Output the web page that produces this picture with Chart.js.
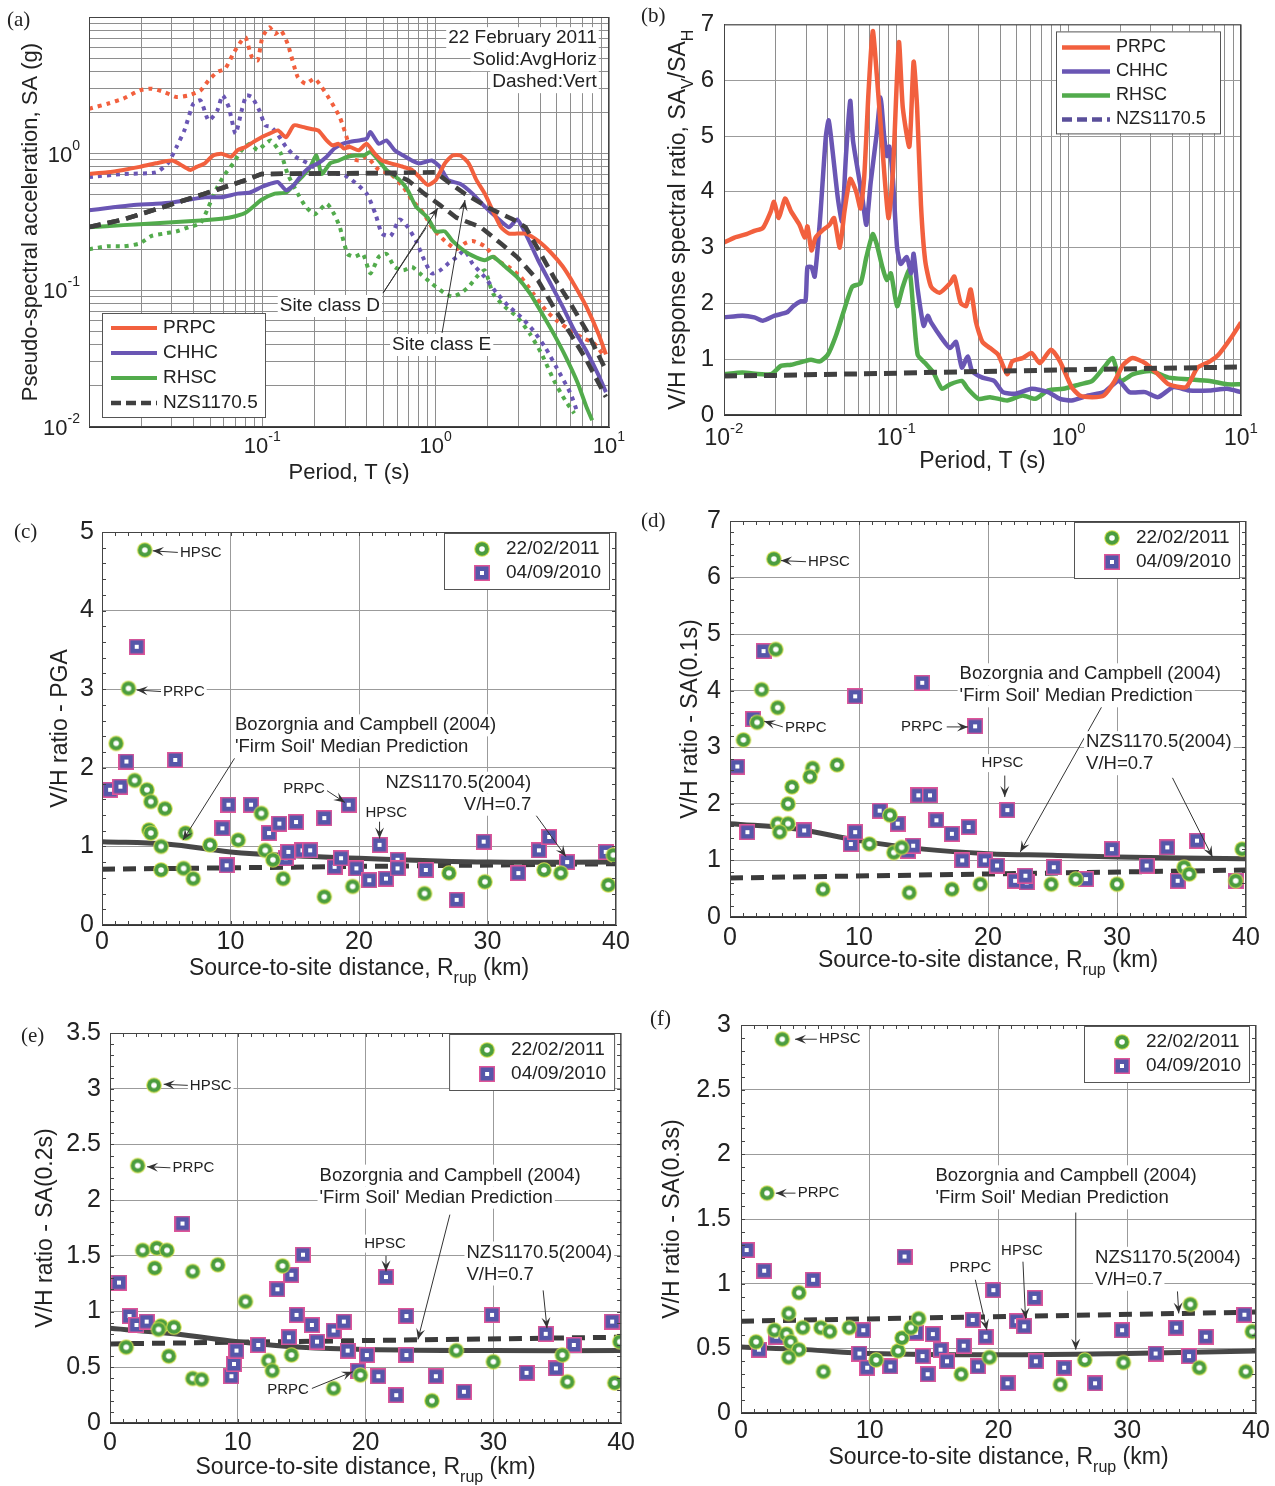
<!DOCTYPE html>
<html lang="en">
<head>
<meta charset="UTF-8">
<title>V/H spectral ratios - Canterbury earthquakes</title>
<script src="https://cdn.jsdelivr.net/npm/chart.js"></script>
<style>
  body { margin: 0; background: #fff; }
  #page { position: relative; width: 1275px; height: 1486px; overflow: hidden; background: #fff; }
  canvas { position: absolute; }
  .tag { position: absolute; font-family: 'Liberation Serif', 'DejaVu Serif', serif; font-size: 21px; color: #222; z-index: 2; }
</style>
</head>
<body>
<div id="page">
  <canvas id="pa"></canvas>
  <canvas id="pb"></canvas>
  <canvas id="pc"></canvas>
  <canvas id="pd"></canvas>
  <canvas id="pe"></canvas>
  <canvas id="pf"></canvas>
  <div class="tag" style="left:7px;top:7px">(a)</div>
  <div class="tag" style="left:641px;top:3px">(b)</div>
  <div class="tag" style="left:14px;top:519px">(c)</div>
  <div class="tag" style="left:641px;top:508px">(d)</div>
  <div class="tag" style="left:21px;top:1023px">(e)</div>
  <div class="tag" style="left:650px;top:1006px">(f)</div>
</div>

<script>
const FONT = "'Liberation Sans', Arial, Helvetica, sans-serif";
const INK = "#222";
const PRPC = "#f2603e", CHHC = "#6a56b4", RHSC = "#52ab4c", DARK = "#404040";

// ---------- (a) pseudo-spectral acceleration, 22 Feb 2011 (solid = avg horizontal, dotted = vertical)
const aT_prpcH = [0.01,0.0128,0.0158,0.0196,0.0243,0.0302,0.0355,0.0385,0.0418,0.0466,0.052,0.058,0.066,0.072,0.08,0.089,0.099,0.11,0.123,0.137,0.152,0.17,0.189,0.21,0.235,0.254,0.275,0.296,0.32,0.36,0.40,0.445,0.49,0.55,0.65,0.73,0.81,0.9,1.0,1.13,1.25,1.39,1.55,1.72,1.92,2.14,2.38,2.65,2.95,3.3,3.9,4.6,5.4,6.3,7.4,8.7,9.6];
const aSA_prpcH = [0.71,0.73,0.76,0.80,0.85,0.89,0.80,0.76,0.80,0.85,0.97,1.0,0.95,1.06,1.12,1.22,1.32,1.40,1.48,1.32,1.61,1.57,1.52,1.48,1.25,1.15,1.18,1.09,1.12,1.06,1.18,1.0,0.89,0.85,0.80,0.76,0.67,0.59,0.64,0.85,0.97,0.97,0.85,0.64,0.51,0.38,0.29,0.26,0.26,0.26,0.23,0.19,0.15,0.11,0.076,0.048,0.034];
const aT_chhcH = [0.01,0.0128,0.0176,0.0243,0.0302,0.0376,0.0466,0.058,0.072,0.085,0.099,0.11,0.123,0.137,0.152,0.17,0.189,0.21,0.235,0.26,0.29,0.32,0.36,0.40,0.42,0.47,0.52,0.58,0.65,0.73,0.81,0.95,1.06,1.18,1.39,1.63,1.92,2.26,2.65,2.95,3.3,3.9,4.6,5.4,6.3,7.4,8.7,9.6];
const aSA_chhcH = [0.385,0.40,0.42,0.43,0.44,0.46,0.48,0.48,0.51,0.52,0.57,0.60,0.62,0.54,0.59,0.71,0.80,0.85,0.95,1.09,1.18,1.22,1.25,1.29,1.44,1.18,1.25,1.06,0.97,0.89,0.85,0.89,0.80,0.64,0.60,0.51,0.41,0.34,0.29,0.33,0.26,0.166,0.112,0.076,0.051,0.036,0.024,0.018];
const aT_rhscH = [0.01,0.0158,0.0243,0.0376,0.052,0.064,0.08,0.099,0.118,0.137,0.152,0.17,0.189,0.205,0.22,0.246,0.275,0.31,0.345,0.385,0.42,0.47,0.52,0.62,0.69,0.77,0.9,1.0,1.13,1.25,1.55,1.92,2.14,2.5,2.95,3.5,4.1,4.8,5.6,6.6,7.4,8.0];
const aSA_rhscH = [0.29,0.30,0.31,0.32,0.33,0.34,0.37,0.46,0.51,0.52,0.59,0.68,0.80,0.97,0.71,0.85,0.89,0.95,0.97,0.97,1.03,0.89,0.76,0.64,0.54,0.41,0.34,0.27,0.27,0.23,0.185,0.166,0.176,0.15,0.125,0.095,0.068,0.048,0.033,0.021,0.0141,0.0112];
const aT_prpcV = [0.01,0.0128,0.0158,0.0196,0.023,0.027,0.032,0.0376,0.044,0.049,0.055,0.061,0.068,0.076,0.08,0.087,0.094,0.1,0.11,0.118,0.128,0.14,0.16,0.178,0.2,0.22,0.24,0.26,0.28,0.31,0.32,0.36,0.40,0.47,0.55,0.65,0.73,0.86,0.95,1.13,1.32,1.47,1.63,1.92,2.26,2.65,3.1,3.65,4.3,5.0,6.0,7.0,8.2,9.2];
const aSA_prpcV = [2.13,2.32,2.53,2.9,2.99,2.83,2.6,2.67,2.9,3.44,3.96,4.18,5.4,6.74,7.1,5.1,4.82,7.1,8.4,7.5,7.98,6.36,3.64,3.25,3.54,3.07,2.6,2.19,1.85,1.25,0.95,0.89,0.95,0.76,0.71,0.57,0.46,0.36,0.29,0.23,0.2,0.22,0.23,0.21,0.166,0.148,0.125,0.095,0.072,0.06,0.051,0.045,0.041,0.034];
const aT_chhcV = [0.01,0.0158,0.0243,0.0285,0.032,0.0355,0.04,0.044,0.049,0.055,0.059,0.064,0.07,0.076,0.081,0.087,0.096,0.104,0.112,0.122,0.137,0.155,0.183,0.21,0.26,0.29,0.33,0.4,0.45,0.49,0.55,0.62,0.69,0.77,0.86,0.95,1.06,1.18,1.32,1.47,1.63,1.92,2.26,2.65,3.1,3.65,4.3,5.0,6.0,6.6];
const aSA_chhcV = [0.675,0.71,0.73,0.85,1.12,1.48,2.32,2.45,1.75,2.07,2.67,2.19,1.40,2.07,2.67,2.6,2.07,1.61,1.57,1.40,1.12,0.95,0.85,0.76,0.71,0.71,0.64,0.51,0.36,0.26,0.25,0.33,0.29,0.23,0.166,0.133,0.14,0.157,0.175,0.196,0.157,0.125,0.095,0.076,0.064,0.051,0.038,0.027,0.0176,0.0126];
const aT_rhscV = [0.01,0.0128,0.0158,0.0196,0.023,0.027,0.032,0.0376,0.044,0.049,0.055,0.061,0.068,0.076,0.085,0.094,0.104,0.112,0.128,0.14,0.16,0.178,0.2,0.235,0.26,0.28,0.31,0.34,0.38,0.42,0.47,0.52,0.58,0.65,0.73,0.81,0.95,1.13,1.25,1.39,1.55,1.72,1.92,2.14,2.5,2.95,3.5,4.1,4.8,5.6,6.3];
const aSA_rhscV = [0.20,0.21,0.21,0.22,0.25,0.26,0.27,0.29,0.31,0.41,0.57,0.71,0.85,1.06,1.18,1.06,1.18,1.25,1.0,0.71,0.51,0.41,0.36,0.43,0.36,0.29,0.185,0.176,0.185,0.133,0.176,0.185,0.148,0.14,0.148,0.133,0.112,0.095,0.09,0.095,0.106,0.125,0.14,0.095,0.076,0.064,0.048,0.034,0.022,0.0156,0.0126];
const aT_nzsD = [0.01,0.0158,0.0273,0.0466,0.08,0.099,0.56,0.69,0.86,1.06,1.32,1.82,2.38,2.95,3.9,4.8,6.0,7.4,9.6];
const aSA_nzsD = [0.29,0.33,0.41,0.51,0.64,0.71,0.72,0.64,0.51,0.42,0.34,0.29,0.22,0.175,0.118,0.075,0.048,0.031,0.0166];
const aT_nzsE = [0.01,0.0158,0.0273,0.0466,0.08,0.099,1.0,1.18,1.47,2.03,2.8,3.3,3.9,4.8,6.0,7.4,9.6];
const aSA_nzsE = [0.29,0.33,0.41,0.51,0.64,0.71,0.73,0.62,0.51,0.40,0.33,0.29,0.20,0.125,0.08,0.051,0.026];

// ---------- (b) V/H response spectral ratio
const bT_prpc = [0.01,0.0115,0.0135,0.015,0.0168,0.0187,0.0195,0.0208,0.0226,0.0245,0.0274,0.0294,0.0305,0.0322,0.034,0.037,0.041,0.0435,0.047,0.05,0.054,0.0585,0.062,0.065,0.069,0.073,0.077,0.0834,0.09,0.0955,0.1035,0.109,0.119,0.126,0.132,0.139,0.147,0.159,0.178,0.205,0.217,0.236,0.254,0.27,0.29,0.316,0.35,0.39,0.44,0.47,0.54,0.61,0.68,0.79,0.89,1.04,1.16,1.37,1.6,1.85,2.07,2.35,2.78,3.3,3.8,4.8,5.6,6.6,7.4,8.7,10];
const bVH_prpc = [3.09,3.18,3.24,3.30,3.35,3.65,3.82,3.53,3.88,3.65,3.41,3.18,3.38,2.95,3.18,3.30,3.41,3.53,3.0,3.65,4.23,4.0,3.70,4.23,5.8,6.88,6.1,4.70,3.53,4.35,6.68,5.51,4.81,6.33,5.51,3.76,2.77,2.30,2.19,2.36,2.48,2.01,1.95,2.25,1.66,1.31,1.20,1.08,0.73,0.96,1.02,1.11,0.93,1.17,0.96,0.50,0.35,0.32,0.35,0.61,0.90,1.02,0.93,0.73,0.55,0.50,0.85,0.96,1.08,1.37,1.66];
const bT_chhc = [0.01,0.0128,0.015,0.0168,0.0197,0.0232,0.0252,0.028,0.0297,0.0305,0.0322,0.0336,0.036,0.039,0.0405,0.0426,0.0458,0.0484,0.051,0.054,0.056,0.06,0.0636,0.067,0.071,0.077,0.081,0.085,0.088,0.091,0.0955,0.101,0.106,0.115,0.122,0.126,0.133,0.144,0.152,0.159,0.184,0.205,0.222,0.24,0.26,0.275,0.316,0.37,0.415,0.49,0.61,0.76,0.89,1.04,1.3,1.6,1.95,2.25,2.78,3.3,4.05,5.0,6.6,8.3,10];
const bVH_chhc = [1.75,1.78,1.75,1.69,1.78,1.84,1.95,2.04,2.04,2.65,2.65,2.48,3.47,4.99,5.28,4.75,3.88,3.47,4.64,5.63,4.93,4.35,3.88,3.41,4.17,5.05,5.69,4.99,4.64,4.81,4.23,3.0,2.71,2.83,2.54,2.89,2.25,1.60,1.78,1.66,1.37,1.20,1.31,0.85,1.05,0.79,0.67,0.61,0.41,0.38,0.47,0.41,0.29,0.26,0.35,0.41,0.61,0.41,0.41,0.32,0.50,0.44,0.44,0.47,0.41];
const bT_rhsc = [0.01,0.0128,0.0187,0.0214,0.0245,0.029,0.032,0.036,0.04,0.0447,0.05,0.0555,0.062,0.067,0.073,0.077,0.083,0.088,0.093,0.101,0.109,0.119,0.125,0.133,0.147,0.164,0.184,0.205,0.24,0.26,0.3,0.35,0.44,0.54,0.64,0.76,0.93,1.16,1.37,1.6,1.8,2.0,2.35,3.0,3.8,5.0,6.6,8.3,10];
const bVH_rhsc = [0.73,0.76,0.73,0.88,0.90,0.96,0.99,0.96,1.08,1.43,1.90,2.30,2.36,2.83,3.24,3.06,2.65,2.42,2.54,1.95,2.30,2.60,1.95,1.08,0.93,0.76,0.47,0.55,0.61,0.47,0.29,0.32,0.26,0.35,0.29,0.44,0.47,0.55,0.61,0.85,1.02,0.61,0.73,0.79,0.67,0.64,0.61,0.55,0.55];
const bT_nzs = [0.01,0.02,0.1,1,10];
const bVH_nzs = [0.70,0.71,0.75,0.81,0.86];

// ---------- (c)-(f) V/H ratio vs rupture distance
const NZS_R = [0, 40];
const c11_R = [3.33,2.06,1.1,2.54,3.5,3.8,4.9,3.65,3.8,4.6,6.5,4.6,6.35,7.1,8.4,10.6,12.4,12.7,13.3,14.1,17.3,19.5,25.1,27.0,29.8,34.4,35.7,39.4,39.8];
const c11_VH = [4.77,3.01,2.31,1.84,1.72,1.57,1.48,1.21,1.17,1.0,1.17,0.70,0.72,0.59,1.02,1.08,1.42,0.95,0.83,0.59,0.36,0.49,0.40,0.66,0.55,0.70,0.66,0.51,0.89];
const c10_R = [0.63,1.43,1.9,2.7,5.7,9.37,9.84,9.7,11.6,13.0,13.8,14.3,14.5,15.1,15.6,16.2,17.3,18.1,18.6,19.2,19.8,20.8,21.6,22.1,23.0,23.0,25.2,27.6,29.7,32.4,34.0,34.8,36.2,39.2];
const c10_VH = [1.72,1.76,2.08,3.54,2.10,1.23,1.53,0.76,1.53,1.17,1.29,0.85,0.93,1.31,0.95,0.95,1.36,0.74,0.85,1.53,0.72,0.57,1.02,0.59,0.83,0.72,0.70,0.32,1.06,0.66,0.95,1.12,0.80,0.93];
const cBC_R = [0,5,10,15,20,25,30,40];
const cBC_VH = [1.06,1.03,0.93,0.88,0.85,0.82,0.80,0.80];
const cNZS_VH = [0.71,0.78];

const d11_R = [3.4,3.55,2.45,3.7,2.1,1.04,8.3,6.4,6.2,4.8,4.5,3.7,4.5,3.85,10.8,12.4,12.7,13.3,7.2,13.9,17.2,19.4,24.9,26.8,30.0,35.2,35.6,39.2,39.7];
const d11_VH = [6.33,4.73,4.02,3.70,3.44,3.13,2.69,2.63,2.48,2.30,2.0,1.65,1.65,1.50,1.29,1.80,1.14,1.23,0.49,0.43,0.49,0.58,0.58,0.67,0.58,0.88,0.76,0.64,1.20];
const d10_R = [0.57,1.35,1.8,2.6,5.75,9.37,9.7,9.7,11.6,13.0,13.8,14.2,14.6,14.9,15.5,16.0,17.2,18.0,18.5,19.0,19.75,20.7,21.5,22.1,23.0,22.9,25.1,27.6,29.6,32.3,33.9,34.7,36.2,39.2];
const d10_VH = [2.66,1.50,3.50,4.70,1.53,1.29,1.50,3.90,1.88,1.65,1.17,1.26,2.15,4.14,2.15,1.71,1.47,1.0,1.59,3.37,1.0,0.91,1.89,0.64,0.61,0.73,0.88,0.67,1.20,0.91,1.23,0.64,1.35,0.64];
const dBC_R = [0,5,10,15,20,25,30,40];
const dBC_VH = [1.65,1.56,1.35,1.2,1.12,1.09,1.06,1.03];
const dNZS_VH = [0.69,0.83];

const e11_R = [3.44,2.17,2.55,3.66,4.46,3.5,6.47,8.44,10.6,13.5,1.27,3.98,3.8,5.0,4.6,6.47,7.17,12.4,12.7,14.2,17.5,19.6,25.2,27.1,30.0,35.4,35.8,39.5,39.9];
const e11_VH = [3.03,2.31,1.55,1.57,1.55,1.39,1.36,1.42,1.09,1.41,0.68,0.87,0.84,0.86,0.60,0.40,0.39,0.56,0.47,0.61,0.31,0.43,0.20,0.65,0.55,0.61,0.37,0.36,0.73];
const e10_R = [0.7,1.53,2.07,2.87,5.67,9.5,9.7,9.9,11.6,13.1,14.0,14.2,14.6,15.1,15.8,16.2,17.5,18.3,18.6,19.4,20.1,21.0,21.6,22.4,23.2,23.2,25.5,27.7,29.9,32.6,34.1,34.9,36.3,39.3];
const e10_VH = [1.26,0.96,0.88,0.91,1.79,0.42,0.53,0.65,0.70,1.20,0.77,1.33,0.97,1.51,0.88,0.73,0.83,0.91,0.65,0.47,0.61,0.42,1.31,0.25,0.96,0.61,0.42,0.28,0.97,0.45,0.80,0.49,0.70,0.91];
const eBC_R = [0,5,10,15,20,30,40];
const eBC_VH = [0.85,0.80,0.73,0.68,0.66,0.65,0.65];
const eNZS_VH = [0.71,0.77];

const f11_R = [3.2,2.02,1.17,2.6,3.7,3.53,3.85,4.5,3.7,4.5,4.8,6.4,6.2,6.9,8.4,10.5,12.2,12.5,13.2,13.8,17.1,19.3,24.8,26.7,29.7,34.9,35.6,39.2,39.7];
const f11_VH = [2.89,1.70,0.55,0.64,0.77,0.61,0.55,0.49,0.43,0.93,0.66,0.32,0.66,0.63,0.66,0.41,0.48,0.58,0.66,0.73,0.30,0.43,0.22,0.41,0.39,0.84,0.35,0.32,0.63];
const f10_R = [0.44,1.39,1.8,2.74,5.6,9.2,9.5,9.8,11.6,12.7,13.6,14.1,14.5,14.9,15.5,16.0,17.3,18.0,18.4,19.0,19.6,20.7,21.4,22.0,22.8,22.9,25.1,27.5,29.6,32.2,33.8,34.8,36.1,39.1];
const f10_VH = [1.26,0.49,1.10,0.59,1.03,0.46,0.64,0.35,0.36,1.21,0.62,0.44,0.30,0.61,0.49,0.40,0.52,0.72,0.36,0.59,0.95,0.23,0.71,0.67,0.89,0.40,0.35,0.23,0.64,0.46,0.66,0.44,0.59,0.76];
const fBC_R = [0,5,10,20,30,40];
const fBC_VH = [0.51,0.49,0.46,0.45,0.46,0.48];
const fNZS_VH = [0.71,0.78];

// ---------- helpers
const xy = (xs, ys) => xs.map((x, i) => ({ x, y: ys[i] }));

const LOG_GRID = [];
for (let e = -2; e < 1; e++) for (let m = 1; m < 10; m++) LOG_GRID.push(+(m * Math.pow(10, e)).toPrecision(2));
LOG_GRID.push(10);

function ringImg() {
  const c = document.createElement("canvas"); c.width = c.height = 18;
  const g = c.getContext("2d");
  g.fillStyle = "#d4df4e"; g.beginPath(); g.arc(9, 9, 7.8, 0, 2 * Math.PI); g.fill();
  g.fillStyle = "#4b9d3f"; g.beginPath(); g.arc(9, 9, 6.8, 0, 2 * Math.PI); g.fill();
  g.fillStyle = "#fff"; g.beginPath(); g.arc(9, 9, 2.8, 0, 2 * Math.PI); g.fill();
  return c;
}
function squareImg() {
  const c = document.createElement("canvas"); c.width = c.height = 16;
  const g = c.getContext("2d");
  g.fillStyle = "#de5599"; g.fillRect(0, 0, 16, 16);
  g.fillStyle = "#5557a9"; g.fillRect(1.5, 1.5, 13, 13);
  g.fillStyle = "#fff"; g.fillRect(6, 6, 4, 4);
  return c;
}
const RING = ringImg(), SQUARE = squareImg();

function linAxis(min, max, step, pad, size) {
  return {
    type: "linear", min, max,
    grid: { color: "#9b9b9b", lineWidth: 1, drawTicks: false },
    border: { display: true, color: "#333" },
    ticks: { stepSize: step, padding: pad, color: INK, autoSkip: false, maxRotation: 0,
             font: { family: FONT, size: size || 25 }, callback: v => String(v) }
  };
}
// log axis: grid at 1..9 x 10^n, labels drawn as 10^n by the overlay
function logAxis() {
  return {
    type: "logarithmic", min: 0.01, max: 10,
    afterBuildTicks: s => { s.ticks = LOG_GRID.map(v => ({ value: v })); },
    grid: { color: "#8e8e8e", lineWidth: 1, drawTicks: false },
    border: { display: true, color: "#333" },
    ticks: { autoSkip: false, maxRotation: 0, font: { family: FONT, size: 21 }, callback: () => "" }
  };
}

function drawPow(ctx, e, x, y, align, size) {
  const es = Math.round(size * 0.64);
  ctx.font = size + "px " + FONT;
  const w1 = ctx.measureText("10").width;
  ctx.font = es + "px " + FONT;
  const w2 = ctx.measureText(String(e)).width;
  const x0 = align === "right" ? x - w1 - w2 : x - (w1 + w2) / 2;
  ctx.fillStyle = INK; ctx.textBaseline = "middle"; ctx.textAlign = "left";
  ctx.font = size + "px " + FONT; ctx.fillText("10", x0, y);
  ctx.font = es + "px " + FONT; ctx.fillText(String(e), x0 + w1, y - size * 0.45);
}

function head(ctx, x1, y1, x2, y2) {
  const a = Math.atan2(y2 - y1, x2 - x1), L = 11, W = 4.5, c = Math.cos(a), s = Math.sin(a);
  ctx.beginPath();
  ctx.moveTo(x2, y2);
  ctx.lineTo(x2 - L * c + W * s, y2 - L * s - W * c);
  ctx.lineTo(x2 - 0.6 * L * c, y2 - 0.6 * L * s);
  ctx.lineTo(x2 - L * c - W * s, y2 - L * s + W * c);
  ctx.closePath(); ctx.fill();
}

function drawNote(ctx, n, X, Y) {
  ctx.strokeStyle = "#333"; ctx.fillStyle = "#333"; ctx.lineWidth = 1;
  (n.arrows || []).forEach(([x1, y1, x2, y2, tip]) => {
    const p = [X(x1), Y(y1), X(x2), Y(y2)];
    ctx.beginPath(); ctx.moveTo(p[0], p[1]); ctx.lineTo(p[2], p[3]); ctx.stroke();
    if (tip) head(ctx, p[0], p[1], p[2], p[3]);
  });
  ctx.font = n.size + "px " + FONT; ctx.textBaseline = "middle";
  ctx.textAlign = n.align || "left";
  const x0 = X(n.x), y0 = Y(n.y), lh = Math.round(n.size * 1.18);
  n.text.forEach((t, i) => {
    const w = ctx.measureText(t).width, left = n.align === "right" ? x0 - w : x0;
    ctx.fillStyle = "#fff"; ctx.fillRect(left - 2, y0 + i * lh - lh / 2, w + 4, lh);
  });
  ctx.fillStyle = INK;
  n.text.forEach((t, i) => ctx.fillText(t, x0, y0 + i * lh));
}

function drawLegend(ctx, L, a) {
  const bx = L.left != null ? a.left + L.left : a.right - L.right - L.w;
  const by = L.top != null ? a.top + L.top : a.bottom - L.bottom - L.h;
  ctx.fillStyle = "#fff"; ctx.fillRect(bx, by, L.w, L.h);
  ctx.strokeStyle = "#555"; ctx.lineWidth = 1; ctx.strokeRect(bx + 0.5, by + 0.5, L.w, L.h);
  ctx.font = L.size + "px " + FONT; ctx.textBaseline = "middle"; ctx.textAlign = "left";
  L.items.forEach((it, i) => {
    const y = by + L.rows[i];
    if (it.img) {
      ctx.drawImage(it.img, bx + L.mx - it.img.width / 2, y - it.img.height / 2);
    } else {
      ctx.save();
      ctx.strokeStyle = it.color; ctx.lineWidth = it.width; ctx.setLineDash(it.dash || []);
      ctx.beginPath(); ctx.moveTo(bx + L.s0, y); ctx.lineTo(bx + L.s1, y); ctx.stroke();
      ctx.restore();
    }
    ctx.fillStyle = INK; ctx.fillText(it.label, bx + L.tx, y);
  });
}

function drawRich(ctx, segs, cx, cy, rot, size) {
  const fontOf = s => (s[1] ? Math.round(size * 0.68) : size) + "px " + FONT;
  let total = 0;
  segs.forEach(s => { ctx.font = fontOf(s); total += ctx.measureText(s[0]).width; });
  ctx.save(); ctx.translate(cx, cy); ctx.rotate(rot);
  ctx.fillStyle = INK; ctx.textBaseline = "middle"; ctx.textAlign = "left";
  let x = -total / 2;
  segs.forEach(s => {
    ctx.font = fontOf(s);
    ctx.fillText(s[0], x, s[1] === "sub" ? size * 0.4 : 0);
    x += ctx.measureText(s[0]).width;
  });
  ctx.restore();
}

function minorTicks(ctx, a, sx, sy, mx, my) {
  ctx.strokeStyle = "#444"; ctx.lineWidth = 1; ctx.beginPath();
  const nx = Math.round((sx.max - sx.min) / mx), ny = Math.round((sy.max - sy.min) / my);
  for (let i = 1; i < nx; i++) {
    const p = Math.round(sx.getPixelForValue(sx.min + i * mx)) + 0.5;
    ctx.moveTo(p, a.bottom); ctx.lineTo(p, a.bottom - 4);
    ctx.moveTo(p, a.top); ctx.lineTo(p, a.top + 4);
  }
  for (let i = 1; i < ny; i++) {
    const p = Math.round(sy.getPixelForValue(sy.min + i * my)) + 0.5;
    ctx.moveTo(a.left, p); ctx.lineTo(a.left + 4, p);
    ctx.moveTo(a.right, p); ctx.lineTo(a.right - 4, p);
  }
  ctx.stroke();
}

function overlay(spec) {
  return {
    id: "overlay",
    afterDraw(chart) {
      const { ctx, chartArea: a } = chart;
      const sx = chart.scales.x, sy = chart.scales.y;
      const X = v => sx.getPixelForValue(v), Y = v => sy.getPixelForValue(v);
      ctx.save();
      ctx.strokeStyle = "#444"; ctx.lineWidth = 1;
      ctx.strokeRect(a.left + 0.5, a.top + 0.5, a.right - a.left - 1, a.bottom - a.top - 1);
      if (spec.minor) minorTicks(ctx, a, sx, sy, spec.minor[0], spec.minor[1]);
      if (spec.pow) {
        const P = spec.pow;
        P.x.forEach(e => drawPow(ctx, e, X(Math.pow(10, e)), a.bottom + P.dy, "center", P.size));
        P.y.forEach(e => drawPow(ctx, e, a.left - P.dx, Y(Math.pow(10, e)) + 2, "right", P.size));
      }
      (spec.notes || []).forEach(n => drawNote(ctx, n, X, Y));
      if (spec.legend) drawLegend(ctx, spec.legend, a);
      drawRich(ctx, spec.xTitle, (a.left + a.right) / 2, a.bottom + spec.xOff, 0, spec.titleSize);
      drawRich(ctx, spec.yTitle, a.left - spec.yOff, (a.top + a.bottom) / 2, -Math.PI / 2, spec.titleSize);
      ctx.restore();
    }
  };
}

function makePanel(spec) {
  const { box, area } = spec;
  const cv = document.getElementById(spec.id);
  cv.width = box.w; cv.height = box.h;
  cv.style.left = box.x + "px"; cv.style.top = box.y + "px";
  const xs = Object.assign({}, spec.x, { afterFit: s => { s.height = box.y + box.h - area.b; } });
  const ys = Object.assign({}, spec.y, { afterFit: s => { s.width = area.l - box.x; } });
  return new Chart(cv, {
    type: "scatter",
    data: { datasets: spec.datasets },
    options: {
      responsive: false, animation: false, events: [],
      layout: { padding: { left: 0, top: area.t - box.y, right: box.x + box.w - area.r, bottom: 0 } },
      plugins: { legend: { display: false }, tooltip: { enabled: false } },
      scales: { x: xs, y: ys }
    },
    plugins: [overlay(spec)]
  });
}

const curve = (xs, ys, color, extra) => Object.assign({
  data: xy(xs, ys), showLine: true, borderColor: color, borderWidth: 4,
  pointRadius: 0, tension: 0.2, order: 1
}, extra || {});
const DOTTED = { borderDash: [4, 5], order: 2 };
const DASHED = { borderDash: [12, 7], borderWidth: 4.5, tension: 0, order: 0 };

function vhSets(r11, v11, r10, v10, rBC, vBC, vNZS) {
  return [
    { data: xy(r11, v11), pointStyle: RING, pointRadius: 8, order: 0 },
    { data: xy(r10, v10), pointStyle: SQUARE, pointRadius: 8, order: 1 },
    { data: xy(rBC, vBC), showLine: true, borderColor: "#474747", borderWidth: 5, pointRadius: 0, tension: 0.4, order: 2 },
    { data: xy(NZS_R, vNZS), showLine: true, borderColor: "#3b3b3b", borderWidth: 5, borderDash: [13, 8], pointRadius: 0, order: 3 }
  ];
}

const DIST_TITLE = [["Source-to-site distance, R", ""], ["rup", "sub"], [" (km)", ""]];
const VH_LEGEND = {
  right: 7, top: 1, w: 165, h: 56, size: 19, rows: [16, 40], mx: 38, tx: 62,
  items: [{ label: "22/02/2011", img: RING }, { label: "04/09/2010", img: SQUARE }]
};
const BC_TEXT = ["Bozorgnia and Campbell (2004)", "'Firm Soil' Median Prediction"];
const NZS_TEXT = ["NZS1170.5(2004)", "V/H=0.7"];

// ---------- panel (a)
makePanel({
  id: "pa", box: { x: 0, y: 0, w: 637, h: 490 }, area: { l: 89, t: 17, r: 609, b: 427 },
  x: logAxis(), y: logAxis(),
  pow: { x: [-1, 0, 1], y: [-2, -1, 0], size: 22, dy: 20, dx: 9 },
  datasets: [
    curve(aT_prpcV, aSA_prpcV, PRPC, DOTTED),
    curve(aT_chhcV, aSA_chhcV, CHHC, DOTTED),
    curve(aT_rhscV, aSA_rhscV, RHSC, DOTTED),
    curve(aT_prpcH, aSA_prpcH, PRPC),
    curve(aT_chhcH, aSA_chhcH, CHHC),
    curve(aT_rhscH, aSA_rhscH, RHSC),
    curve(aT_nzsD, aSA_nzsD, DARK, DASHED),
    curve(aT_nzsE, aSA_nzsE, DARK, DASHED)
  ],
  notes: [
    { text: ["22 February 2011", "Solid:AvgHoriz", "Dashed:Vert"], x: 8.5, y: 7.0, size: 19, align: "right" },
    { text: ["Site class D"], x: 0.126, y: 0.0768, size: 19,
      arrows: [[0.497, 0.0955, 0.88, 0.286, false], [0.497, 0.0955, 1.03, 0.40, true]] },
    { text: ["Site class E"], x: 0.56, y: 0.0398, size: 19,
      arrows: [[1.089, 0.0488, 1.476, 0.458, true]] }
  ],
  legend: {
    left: 13, bottom: 10, w: 163, h: 104, size: 19, rows: [15, 40, 65, 90], s0: 9, s1: 55, tx: 61,
    items: [
      { label: "PRPC", color: PRPC, width: 4 },
      { label: "CHHC", color: CHHC, width: 4 },
      { label: "RHSC", color: RHSC, width: 4 },
      { label: "NZS1170.5", color: DARK, width: 4.5, dash: [10, 5] }
    ]
  },
  xTitle: [["Period, T (s)", ""]], xOff: 46,
  yTitle: [["Pseudo-spectral acceleration, SA (g)", ""]], yOff: 58, titleSize: 22
});

// ---------- panel (b)
makePanel({
  id: "pb", box: { x: 637, y: 0, w: 638, h: 490 }, area: { l: 724, t: 16, r: 1241, b: 415 },
  x: logAxis(), y: linAxis(0, 7, 1, 10, 24),
  pow: { x: [-2, -1, 0, 1], y: [], size: 23, dy: 24, dx: 0 },
  datasets: [
    curve(bT_prpc, bVH_prpc, PRPC, { borderWidth: 4.5 }),
    curve(bT_chhc, bVH_chhc, CHHC, { borderWidth: 4.5 }),
    curve(bT_rhsc, bVH_rhsc, RHSC, { borderWidth: 4.5 }),
    curve(bT_nzs, bVH_nzs, DARK, { borderDash: [13, 7], borderWidth: 5, tension: 0, order: 0 })
  ],
  legend: {
    right: 21, top: 7, w: 164, h: 102, size: 18, rows: [16, 40, 64, 88], s0: 6, s1: 54, tx: 60,
    items: [
      { label: "PRPC", color: PRPC, width: 4.5 },
      { label: "CHHC", color: CHHC, width: 4.5 },
      { label: "RHSC", color: RHSC, width: 4.5 },
      { label: "NZS1170.5", color: "#5a4f9a", width: 4.5, dash: [10, 5] }
    ]
  },
  xTitle: [["Period, T (s)", ""]], xOff: 47,
  yTitle: [["V/H response spectral ratio, SA", ""], ["V", "sub"], ["/SA", ""], ["H", "sub"]], yOff: 45, titleSize: 23
});

// ---------- panel (c)
makePanel({
  id: "pc", box: { x: 0, y: 490, w: 637, h: 500 }, area: { l: 102, t: 532, r: 616, b: 925 },
  x: linAxis(0, 40, 10, 2), y: linAxis(0, 5, 1, 8),
  datasets: vhSets(c11_R, c11_VH, c10_R, c10_VH, cBC_R, cBC_VH, cNZS_VH),
  minor: [1, 0.2],
  notes: [
    { text: ["HPSC"], x: 6.07, y: 4.73, size: 15, arrows: [[5.9, 4.74, 3.95, 4.76, true]] },
    { text: ["PRPC"], x: 4.75, y: 2.96, size: 15, arrows: [[4.6, 2.97, 2.7, 2.99, true]] },
    { text: BC_TEXT, x: 10.35, y: 2.54, size: 18.5, arrows: [[10.35, 2.13, 6.3, 1.08, true]] },
    { text: ["PRPC"], x: 14.1, y: 1.73, size: 15, arrows: [[17.5, 1.71, 18.9, 1.56, true]] },
    { text: ["HPSC"], x: 20.5, y: 1.43, size: 15, arrows: [[21.6, 1.32, 21.6, 1.1, true]] },
    { text: NZS_TEXT, x: 33.4, y: 1.81, size: 18.5, align: "right", arrows: [[33.8, 1.39, 36.1, 0.87, true]] }
  ],
  legend: VH_LEGEND,
  xTitle: DIST_TITLE, xOff: 44, yTitle: [["V/H ratio - PGA", ""]], yOff: 41, titleSize: 23
});

// ---------- panel (d)
makePanel({
  id: "pd", box: { x: 637, y: 490, w: 638, h: 500 }, area: { l: 730, t: 521, r: 1246, b: 917 },
  x: linAxis(0, 40, 10, 6), y: linAxis(0, 7, 1, 9),
  datasets: vhSets(d11_R, d11_VH, d10_R, d10_VH, dBC_R, dBC_VH, dNZS_VH),
  minor: [1, 0.2],
  notes: [
    { text: ["HPSC"], x: 6.05, y: 6.27, size: 15, arrows: [[5.9, 6.28, 3.95, 6.3, true]] },
    { text: ["PRPC"], x: 4.26, y: 3.34, size: 15, arrows: [[4.1, 3.36, 2.65, 3.46, true]] },
    { text: ["PRPC"], x: 13.26, y: 3.36, size: 15, arrows: [[16.8, 3.36, 18.45, 3.36, true]] },
    { text: ["HPSC"], x: 19.5, y: 2.72, size: 15, arrows: [[21.3, 2.5, 21.3, 2.12, true]] },
    { text: BC_TEXT, x: 17.8, y: 4.29, size: 18.5, arrows: [[28.9, 3.75, 22.5, 1.15, true]] },
    { text: NZS_TEXT, x: 27.6, y: 3.09, size: 18.5, arrows: [[34.3, 2.46, 37.4, 1.06, true]] }
  ],
  legend: VH_LEGEND,
  xTitle: DIST_TITLE, xOff: 44, yTitle: [["V/H ratio - SA(0.1s)", ""]], yOff: 39, titleSize: 23
});

// ---------- panel (e)
makePanel({
  id: "pe", box: { x: 0, y: 990, w: 640, h: 496 }, area: { l: 110, t: 1033, r: 622, b: 1423 },
  x: linAxis(0, 40, 10, 5), y: linAxis(0, 3.5, 0.5, 9),
  datasets: vhSets(e11_R, e11_VH, e10_R, e10_VH, eBC_R, eBC_VH, eNZS_VH),
  minor: [1, 0.1],
  notes: [
    { text: ["HPSC"], x: 6.25, y: 3.03, size: 15, arrows: [[6.1, 3.03, 4.2, 3.04, true]] },
    { text: ["PRPC"], x: 4.9, y: 2.29, size: 15, arrows: [[4.75, 2.29, 2.9, 2.3, true]] },
    { text: BC_TEXT, x: 16.4, y: 2.22, size: 18.5, arrows: [[26.6, 1.87, 24.1, 0.75, true]] },
    { text: ["HPSC"], x: 19.9, y: 1.61, size: 15, arrows: [[21.6, 1.5, 21.6, 1.36, true]] },
    { text: NZS_TEXT, x: 27.9, y: 1.53, size: 18.5, arrows: [[33.9, 1.19, 34.2, 0.85, true]] },
    { text: ["PRPC"], x: 12.3, y: 0.30, size: 15, arrows: [[15.8, 0.31, 19.0, 0.46, true]] }
  ],
  legend: VH_LEGEND,
  xTitle: DIST_TITLE, xOff: 45, yTitle: [["V/H ratio - SA(0.2s)", ""]], yOff: 64, titleSize: 23
});

// ---------- panel (f)
makePanel({
  id: "pf", box: { x: 637, y: 990, w: 638, h: 496 }, area: { l: 741, t: 1025, r: 1256, b: 1413 },
  x: linAxis(0, 40, 10, 3), y: linAxis(0, 3, 0.5, 10),
  datasets: vhSets(f11_R, f11_VH, f10_R, f10_VH, fBC_R, fBC_VH, fNZS_VH),
  minor: [1, 0.1],
  notes: [
    { text: ["HPSC"], x: 6.05, y: 2.89, size: 15, arrows: [[5.9, 2.89, 4.2, 2.89, true]] },
    { text: ["PRPC"], x: 4.4, y: 1.70, size: 15, arrows: [[4.25, 1.70, 2.7, 1.70, true]] },
    { text: BC_TEXT, x: 15.1, y: 1.83, size: 18.5, arrows: [[26.0, 1.55, 26.0, 0.49, true]] },
    { text: ["HPSC"], x: 20.2, y: 1.25, size: 15, arrows: [[21.9, 1.17, 22.1, 0.73, true]] },
    { text: ["PRPC"], x: 16.2, y: 1.12, size: 15, arrows: [[18.2, 1.03, 19.1, 0.64, true]] },
    { text: NZS_TEXT, x: 27.5, y: 1.2, size: 18.5, arrows: [[33.9, 0.94, 34.0, 0.77, true]] }
  ],
  legend: VH_LEGEND,
  xTitle: DIST_TITLE, xOff: 45, yTitle: [["V/H ratio - SA(0.3s)", ""]], yOff: 68, titleSize: 23
});
</script>
</body>
</html>
